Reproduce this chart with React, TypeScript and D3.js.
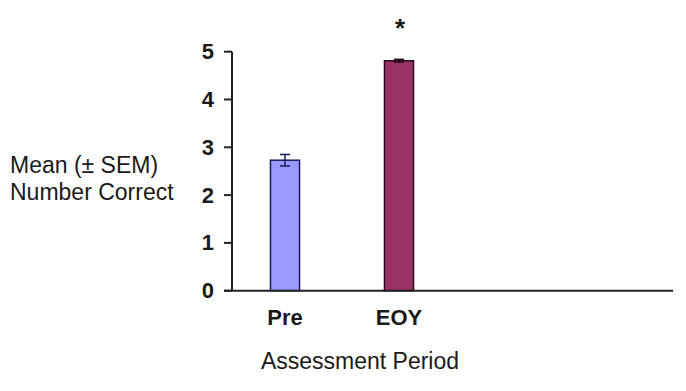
import React from "react";
import * as d3 from "d3";

const categories = ["Pre", "EOY"];
const means = [2.73, 4.81];
const sems = [0.12, 0.03];
const fills = ["#9999ff", "#993366"];
const strokes = ["#1a1a5a", "#2a0a18"];
const yTicks = [0, 1, 2, 3, 4, 5];
const significance = ["", "*"];

export default function App() {
  const W = 686, H = 391;
  const axisX = 232;
  const axisEnd = 673;
  const y = d3.scaleLinear().domain([0, 5]).range([290.7, 51.7]);
  const x = d3.scaleBand().domain(categories).range([axisX, 452]).paddingInner(0.745).paddingOuter(0.3375);
  const bw = x.bandwidth();
  const font = "Arial, 'Liberation Sans', sans-serif";
  return (
    <svg width={W} height={H} style={{ position: "absolute", left: 0, top: 0, background: "#fff" }} fontFamily={font}>
      <rect width={W} height={H} fill="#fff" />
      {categories.map((c, i) => {
        const x0 = x(c)!;
        const cx = x0 + bw / 2;
        const top = y(means[i]);
        return (
          <g key={c}>
            <rect x={x0} y={top} width={bw} height={y(0) - top} fill={fills[i]} stroke={strokes[i]} strokeWidth={1.5} />
            <line x1={cx} x2={cx} y1={y(means[i] + sems[i])} y2={y(means[i] - sems[i])} stroke={strokes[i]} strokeWidth={1.5} />
            <line x1={cx - 5} x2={cx + 5} y1={y(means[i] + sems[i])} y2={y(means[i] + sems[i])} stroke={strokes[i]} strokeWidth={1.5} />
            <line x1={cx - 5} x2={cx + 5} y1={y(means[i] - sems[i])} y2={y(means[i] - sems[i])} stroke={strokes[i]} strokeWidth={1.5} />
            <text x={cx} y={325} textAnchor="middle" fontWeight="bold" fontSize={22} fill="#1a1a1a">{c}</text>
            {significance[i] && (
              <text x={cx + 1} y={37} textAnchor="middle" fontWeight="bold" fontSize={26} fill="#1a1a1a">{significance[i]}</text>
            )}
          </g>
        );
      })}
      <line x1={axisX} x2={axisX} y1={y(5)} y2={y(0)} stroke="#222" strokeWidth={2} />
      <line x1={axisX - 8} x2={axisEnd} y1={y(0)} y2={y(0)} stroke="#222" strokeWidth={2} />
      {yTicks.map((t) => (
        <g key={t}>
          <line x1={axisX - 8} x2={axisX} y1={y(t)} y2={y(t)} stroke="#222" strokeWidth={2} />
          <text x={214} y={y(t) + 7.5} textAnchor="end" fontWeight="bold" fontSize={22} fill="#1a1a1a">{t}</text>
        </g>
      ))}
      <text x={10} y={173} fontSize={23} fill="#1a1a1a">Mean (± SEM)</text>
      <text x={10} y={200} fontSize={23} fill="#1a1a1a">Number Correct</text>
      <text x={360} y={369} textAnchor="middle" fontSize={23} fill="#1a1a1a">Assessment Period</text>
    </svg>
  );
}
